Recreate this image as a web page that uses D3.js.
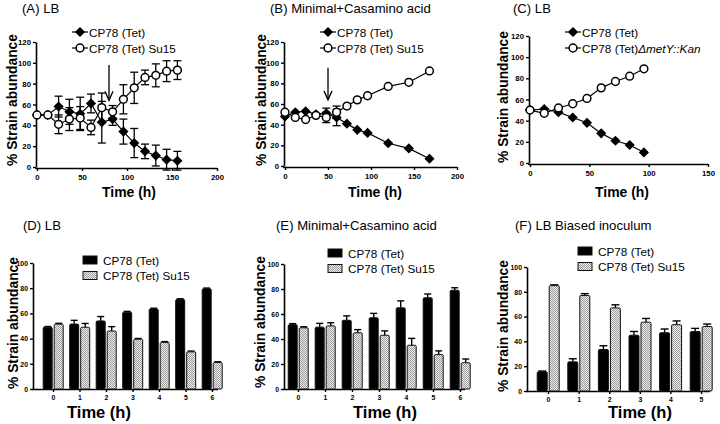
<!DOCTYPE html>
<html><head><meta charset="utf-8">
<script src="https://cdn.jsdelivr.net/npm/d3@7"></script>
<style>
body{margin:0;background:#fff}
svg{display:block}
text{font-family:"Liberation Sans",Arial,Helvetica,sans-serif;fill:#000}
</style>
</head><body>
<svg id="c" width="720" height="424"></svg>
<script>
// ---------- DATA ----------
const seriesNames = ["CP78 (Tet)", "CP78 (Tet) Su15"];
const mutantName = "ΔmetY::Kan";

// (A) LB
const A_time   = [0,12,24,36,48,60,72,84,96,108,120,132,144,156];
const A_tet    = [50,50,58,53,51,61,43,46,34,23,15,11,7,6];
const A_tetErr = [0,1,10,12,16,9,20,6,12,14,7,10,10,9];
const A_su     = [50,50,41,46,47,38,57,53,65,76,86,88,92,93];
const A_suErr  = [0,1,9,11,11,7,14,6,14,15,7,11,10,9];
const A_arrow  = {t:80, from:98, to:64};

// (B) Minimal+Casamino acid
const B_time   = [0,12,24,36,48,60,72,84,96,120,144,168];
const B_tet    = [48,52,53,50,51,47,41,35,32,22,17,7];
const B_tetErr = [1,1,1,1,5,8,1,1,1,1,1,1];
const B_su     = [52,47,45,49,47,52,58,64,68,77,81,92];
const B_suErr  = [1,1,1,1,5,6,1,1,1,1,1,1];
const B_arrow  = {t:50, from:95, to:64};

// (C) LB
const C_time   = [0,12,24,36,48,60,72,84,96];
const C_tet    = [50,51,48,43,38,28,21,17,10];
const C_mut    = [50,47,52,56,61,71,77,82,89];

// (D) LB
const D_hours  = ["0","1","2","3","4","5","6"];
const D_tet    = [49,51.5,54,61,63.5,71,79.5];
const D_tetErr = [0.6,3,3.5,0.6,0.6,0.6,0.6];
const D_su     = [51.5,49,46,39.5,37,29.5,21];
const D_suErr  = [0.6,3,3.5,0.6,0.6,0.6,0.6];

// (E) Minimal+Casamino acid
const E_hours  = ["0","1","2","3","4","5","6"];
const E_tet    = [51.5,49.5,55,57,65,73,79];
const E_tetErr = [0.8,3,3.5,3.5,5.5,3,2];
const E_su     = [49,50.5,45,43,35,27.5,21];
const E_suErr  = [0.8,2.5,2.5,3.5,5.5,3,3];

// (F) LB Biased inoculum
const F_hours  = ["0","1","2","3","4","5"];
const F_tet    = [15.5,23.5,33.5,45,47,48];
const F_tetErr = [0.6,2.5,3,3,3,2.5];
const F_su     = [85,77,67,55.5,53.5,52];
const F_suErr  = [0.6,1.5,2.5,3,3,2];

// ---------- DRAWING ----------
const svg = d3.select("#c");
const FONT = '"Liberation Sans",Arial,Helvetica,sans-serif';

// font sizes fitted to the reference text widths
function fitSize(str, weight, target){
  const t = svg.append("text").attr("font-family",FONT).attr("font-size","100px")
    .attr("font-weight",weight).text(str);
  const w = t.node().getComputedTextLength(); t.remove();
  return 100*target/w;
}
const FS_TITLE  = fitSize("(B) Minimal+Casamino acid","normal",161);
const FS_LEG    = fitSize("CP78 (Tet) Su15","normal",87);
const FS_YLAB   = fitSize("% Strain abundance","bold",132);
const FS_XLAB_T = fitSize("Time (h)","bold",54);
const FS_XLAB_B = fitSize("Time (h)","bold",64);
const FS_TICK_T = fitSize("120","bold",13);
const FS_TICK_B = fitSize("100","bold",11.5);

const defs = svg.append("defs");
const pat = defs.append("pattern").attr("id","hatch").attr("patternUnits","userSpaceOnUse")
  .attr("width",2).attr("height",2);
pat.append("rect").attr("width",2).attr("height",2).attr("fill","#efefef");
pat.append("rect").attr("width",1).attr("height",1).attr("fill","#9a9a9a");
pat.append("rect").attr("x",1).attr("y",1).attr("width",1).attr("height",1).attr("fill","#9a9a9a");

function styleAxis(g, fs){
  g.selectAll(".domain").attr("stroke","#000").attr("stroke-width",1.6);
  g.selectAll(".tick line").attr("stroke","#000").attr("stroke-width",1.4);
  g.selectAll(".tick text").attr("font-family",FONT).attr("font-weight","bold")
    .attr("font-size",fs+"px").attr("fill","#000");
}
function title(x,y,t){
  svg.append("text").attr("x",x).attr("y",y).attr("font-size",FS_TITLE+"px").text(t);
}
function yLabel(x,yc){
  svg.append("text").attr("transform",`translate(${x},${yc}) rotate(-90)`)
    .attr("text-anchor","middle").attr("font-weight","bold").attr("font-size",FS_YLAB+"px")
    .text("% Strain abundance");
}
function xLabel(xc,y,fs){
  svg.append("text").attr("x",xc).attr("y",y).attr("text-anchor","middle")
    .attr("font-weight","bold").attr("font-size",fs+"px").text("Time (h)");
}
const diamond = d3.symbol().type(d3.symbolSquare).size(52);

function drawMarker(g, kind, x, y){
  if(kind==="d"){
    g.append("path").attr("d",diamond()).attr("transform",`translate(${x},${y}) rotate(45)`)
      .attr("fill","#000");
  } else {
    g.append("circle").attr("cx",x).attr("cy",y).attr("r",3.9)
      .attr("fill","#fff").attr("stroke","#000").attr("stroke-width",1.5);
  }
}

function linePanel(o){
  const x = d3.scaleLinear().domain(o.xDomain).range(o.xr);
  const y = d3.scaleLinear().domain([0,120]).range(o.yr);
  const g = svg.append("g");
  const ya = g.append("g").attr("transform",`translate(${o.xr[0]-1},0)`)
    .call(d3.axisLeft(y).tickValues([0,20,40,60,80,100,120]).tickSize(3).tickPadding(2).tickSizeOuter(0));
  styleAxis(ya, FS_TICK_T);
  const xa = g.append("g").attr("transform",`translate(0,${o.yr[0]+1})`)
    .call(d3.axisBottom(x).tickValues(o.xTicks).tickSize(3).tickPadding(3).tickSizeOuter(0));
  styleAxis(xa, FS_TICK_T);
  xa.select(".domain").attr("d",`M${o.xr[0]-1.8},0.5H${o.xr[1]}`);

  const series = o.series;
  series.forEach(s=>{
    if(!s.err) return;
    s.vals.forEach((v,i)=>{
      const e = s.err[i]; if(e<1.5) return;
      const cx = x(o.time[i]);
      g.append("line").attr("x1",cx).attr("x2",cx).attr("y1",y(v-e)).attr("y2",y(v+e))
        .attr("stroke","#000").attr("stroke-width",1.3);
      [v-e,v+e].forEach(b=>g.append("line").attr("x1",cx-4).attr("x2",cx+4)
        .attr("y1",y(b)).attr("y2",y(b)).attr("stroke","#000").attr("stroke-width",1.3));
    });
  });
  const line = d3.line().x((d,i)=>x(o.time[i])).y(d=>y(d));
  series.forEach(s=>{
    g.append("path").attr("d",line(s.vals)).attr("fill","none").attr("stroke","#000").attr("stroke-width",1.2);
  });
  series.forEach(s=>{
    s.vals.forEach((v,i)=>drawMarker(g,s.kind,x(o.time[i]),y(v)));
  });
  if(o.arrow){
    const ax = x(o.arrow.t), y1 = y(o.arrow.from), y2 = y(o.arrow.to);
    g.append("line").attr("x1",ax).attr("x2",ax).attr("y1",y1).attr("y2",y2)
      .attr("stroke","#000").attr("stroke-width",1.3);
    g.append("path").attr("d",`M${ax-4},${y2-9}L${ax},${y2}L${ax+4},${y2-9}`)
      .attr("fill","none").attr("stroke","#000").attr("stroke-width",1.3);
  }
  o.legend.forEach((L,i)=>{
    const ly = o.legY + i*16;
    g.append("line").attr("x1",o.legX-8).attr("x2",o.legX+8).attr("y1",ly).attr("y2",ly)
      .attr("stroke","#000").attr("stroke-width",1.2);
    drawMarker(g,series[i].kind,o.legX,ly);
    const t = g.append("text").attr("x",o.legX+9).attr("y",ly+4.6).attr("font-size",FS_LEG+"px");
    t.append("tspan").text(L.text);
    if(L.italic) t.append("tspan").attr("font-style","italic").text(L.italic);
  });
}

function barPanel(o){
  const x = d3.scalePoint().domain(o.cats).range(o.cr);
  const y = d3.scaleLinear().domain([0,100]).range(o.yr);
  const g = svg.append("g");
  const ya = g.append("g").attr("transform",`translate(${o.ax[0]},0)`)
    .call(d3.axisLeft(y).tickValues([0,20,40,60,80,100]).tickSize(3).tickPadding(2).tickSizeOuter(0));
  styleAxis(ya, FS_TICK_B);
  const xa = g.append("g").attr("transform",`translate(0,${o.yr[0]})`)
    .call(d3.axisBottom(x).tickSize(3).tickPadding(3).tickSizeOuter(0));
  styleAxis(xa, FS_TICK_B);
  xa.select(".domain").attr("d",`M${o.ax[0]-0.8},0.5H${o.ax[1]}`);

  const bw = o.bw;
  const groups = [
    {vals:o.tet, err:o.tetErr, off:-bw-0.8, fill:"#000"},
    {vals:o.su,  err:o.suErr,  off:1.2,      fill:"url(#hatch)"}
  ];
  groups.forEach(s=>{
    s.vals.forEach((v,i)=>{
      const bx = x(o.cats[i]) + s.off;
      const e = s.err[i];
      g.append("line").attr("x1",bx+bw/2).attr("x2",bx+bw/2).attr("y1",y(v)).attr("y2",y(v+e))
        .attr("stroke","#000").attr("stroke-width",1.4);
      g.append("line").attr("x1",bx+1).attr("x2",bx+bw-1).attr("y1",y(v+e)).attr("y2",y(v+e))
        .attr("stroke","#000").attr("stroke-width",1.4);
      g.append("rect").attr("x",bx).attr("y",y(v)).attr("width",bw).attr("height",y(0)-y(v))
        .attr("rx",1.2).attr("fill",s.fill).attr("stroke","#111").attr("stroke-width",1);
    });
  });
  seriesNames.forEach((n,i)=>{
    const ly = o.legY + i*15.5;
    g.append("rect").attr("x",o.legX).attr("y",ly-4).attr("width",14).attr("height",8)
      .attr("fill",groups[i].fill).attr("stroke","#111").attr("stroke-width",1);
    g.append("text").attr("x",o.legX+20).attr("y",ly+4.6).attr("font-size",FS_LEG+"px").text(n);
  });
}

// Panel A
title(22,13,"(A) LB");
linePanel({xr:[37,217], yr:[167,42], xDomain:[0,200], xTicks:[0,50,100,150,200],
  time:A_time, series:[{vals:A_tet,err:A_tetErr,kind:"d"},{vals:A_su,err:A_suErr,kind:"o"}],
  arrow:A_arrow, legX:80, legY:32, legend:[{text:seriesNames[0]},{text:seriesNames[1]}]});
yLabel(17,100); xLabel(129,197,FS_XLAB_T);

// Panel B
title(270,13,"(B) Minimal+Casamino acid");
linePanel({xr:[285,457], yr:[166,42], xDomain:[0,200], xTicks:[0,50,100,150,200],
  time:B_time, series:[{vals:B_tet,err:B_tetErr,kind:"d"},{vals:B_su,err:B_suErr,kind:"o"}],
  arrow:B_arrow, legX:328, legY:32, legend:[{text:seriesNames[0]},{text:seriesNames[1]}]});
yLabel(266,100); xLabel(375,197,FS_XLAB_T);

// Panel C
title(513,13,"(C) LB");
linePanel({xr:[530,708], yr:[163,36], xDomain:[0,150], xTicks:[0,50,100,150],
  time:C_time, series:[{vals:C_tet,kind:"d"},{vals:C_mut,kind:"o"}],
  legX:573, legY:32, legend:[{text:seriesNames[0]},{text:"CP78 (Tet)",italic:mutantName}]});
yLabel(508,97); xLabel(622,197,FS_XLAB_T);

// Panel D
title(23,230,"(D) LB");
barPanel({cats:D_hours, cr:[53,212], ax:[33,218], yr:[389,263], bw:9,
  tet:D_tet, tetErr:D_tetErr, su:D_su, suErr:D_suErr, legX:83, legY:260});
yLabel(18,323); xLabel(99,418,FS_XLAB_B);

// Panel E
title(276,230,"(E) Minimal+Casamino acid");
barPanel({cats:E_hours, cr:[298,460], ax:[284,465], yr:[389,264], bw:9,
  tet:E_tet, tetErr:E_tetErr, su:E_su, suErr:E_suErr, legX:328, legY:253});
yLabel(265,322); xLabel(385,418,FS_XLAB_B);

// Panel F
title(515,230,"(F) LB Biased inoculum");
barPanel({cats:F_hours, cr:[548,701], ax:[527,710], yr:[391,267], bw:10,
  tet:F_tet, tetErr:F_tetErr, su:F_su, suErr:F_suErr, legX:578, legY:251});
yLabel(508,326); xLabel(640,418,FS_XLAB_B);
</script>
</body></html>
